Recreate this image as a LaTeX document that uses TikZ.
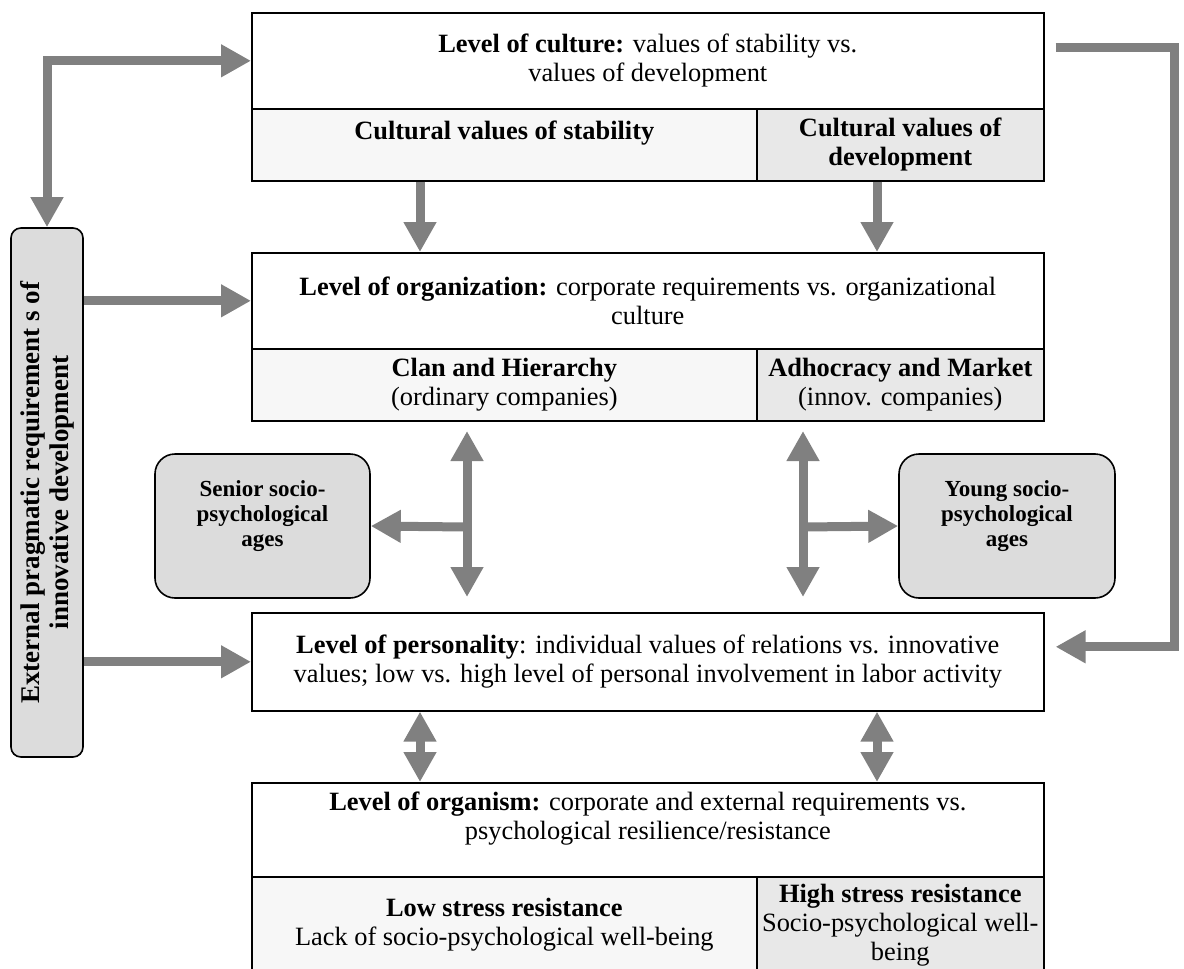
\documentclass[tikz,border=0pt]{standalone}
\usepackage{fontspec}
\setmainfont{Liberation Serif}
\usetikzlibrary{arrows.meta}

\definecolor{stabfill}{HTML}{F7F7F7}
\definecolor{devfill}{HTML}{E8E8E8}
\definecolor{agefill}{HTML}{DCDCDC}
\definecolor{arrowgray}{HTML}{808080}

\begin{document}
\begin{tikzpicture}[x=0.5pt, y=-0.5pt,
                    font=\fontsize{13.2}{14.5}\selectfont,
                    cell/.style={draw, line width=0.8pt, inner sep=2pt, anchor=north west, align=center},
                    agebox/.style={draw, line width=0.8pt, rounded corners=10pt, fill=agefill, align=center,
                                   font=\fontsize{11.5}{12.5}\selectfont\bfseries},
                    fat/.style={draw=arrowgray, line width=4.5pt, -{Triangle[width=15.5pt,length=15pt]}},
                    fatboth/.style={draw=arrowgray, line width=4.5pt,
                                    {Triangle[width=15.5pt,length=15pt]}-{Triangle[width=15.5pt,length=15pt]}}]
    \useasboundingbox (0,0) rectangle (1184,969);

    % Level of culture
    \node[cell, fill=white, minimum width=396pt, minimum height=48pt] (cult) at (251,12)
        {\textbf{Level of culture:} values of stability vs.\\values of development};
    \node[cell, fill=stabfill, minimum width=252.5pt, minimum height=36pt] (cultS) at (251,108)
        {\textbf{Cultural values of stability}\\\mbox{}};
    \node[cell, fill=devfill, minimum width=143.5pt, minimum height=36pt] (cultD) at (756,108)
        {\textbf{Cultural values of}\\\textbf{development}};

    % Level of organization
    \node[cell, fill=white, minimum width=396pt, minimum height=48pt] (org) at (251,252)
        {\textbf{Level of organization:} corporate requirements vs. organizational\\culture};
    \node[cell, fill=stabfill, minimum width=252.5pt, minimum height=36pt] (orgS) at (251,348)
        {\textbf{Clan and Hierarchy}\\(ordinary companies)};
    \node[cell, fill=devfill, minimum width=143.5pt, minimum height=36pt] (orgD) at (756,348)
        {\textbf{Adhocracy and Market}\\(innov. companies)};

    % Level of personality
    \node[cell, fill=white, minimum width=396pt, minimum height=49pt] (pers) at (251,612)
        {\textbf{Level of personality}: individual values of relations vs. innovative\\values; low vs. high level of personal involvement in labor activity};

    % Level of organism
    \node[cell, fill=white, minimum width=396pt, minimum height=47pt] (orgm) at (251,782)
        {\textbf{Level of organism:} corporate and external requirements vs.\\psychological resilience/resistance\\\mbox{}};
    \node[cell, fill=stabfill, minimum width=252.5pt, minimum height=48pt] (orgmL) at (251,876)
        {\textbf{Low stress resistance}\\Lack of socio-psychological well-being};
    \node[cell, fill=devfill, minimum width=143.5pt, minimum height=48pt] (orgmH) at (756,876)
        {\textbf{High stress resistance}\\Socio-psychological well-\\being};

    % External requirements (rotated)
    \node[draw, line width=0.8pt, rounded corners=5pt, fill=agefill, rotate=90, align=center,
          minimum width=264.5pt, minimum height=36pt, inner sep=2pt,
          font=\fontsize{13.5}{14.5}\selectfont] (ext) at (47,492.5)
        {\textbf{External pragmatic requirement s of}\\\textbf{innovative development}};

    % Socio-psychological ages
    \node[agebox, minimum width=107.5pt, minimum height=72pt] (senior) at (262.5,526)
        {Senior socio-\\psychological\\ages\\\mbox{}};
    \node[agebox, minimum width=108pt, minimum height=72pt] (young) at (1007,526)
        {Young socio-\\psychological\\ages\\\mbox{}};

    \coordinate (dl) at (420,0);
    \coordinate (dr) at (877,0);
    \coordinate (mlt) at (467,431);
    \coordinate (mlc) at (467,527);
    \coordinate (mlb) at (467,597);
    \coordinate (mrt) at (803,431);
    \coordinate (mrc) at (803,527);
    \coordinate (mrb) at (803,597);

    % culture -> organization
    \draw[fat] (dl |- cultS.south) -- (dl |- org.north);
    \draw[fat] (dr |- cultD.south) -- (dr |- org.north);

    % organization <-> personality, ages
    \draw[fatboth] (mlt) -- (mlb);
    \draw[fat] (mlc) -- (senior.east);
    \draw[fatboth] (mrt) -- (mrb);
    \draw[fat] (mrc) -- (young.west);

    % personality <-> organism
    \draw[fatboth] (dl |- pers.south) -- (dl |- orgm.north);
    \draw[fatboth] (dr |- pers.south) -- (dr |- orgm.north);

    % external requirements
    \draw[fatboth] (ext.east) |- (cult.west);
    \draw[fat] (ext.south |- org.west) -- (org.west);
    \draw[fat] (ext.south |- pers.west) -- (pers.west);

    % culture -> personality (right side)
    \draw[fat] ([xshift=5.5pt,yshift=6.5pt]cult.east) -- ++(59.5pt,0pt) |- ([xshift=5.5pt,yshift=7.5pt]pers.east);
\end{tikzpicture}
\end{document}
